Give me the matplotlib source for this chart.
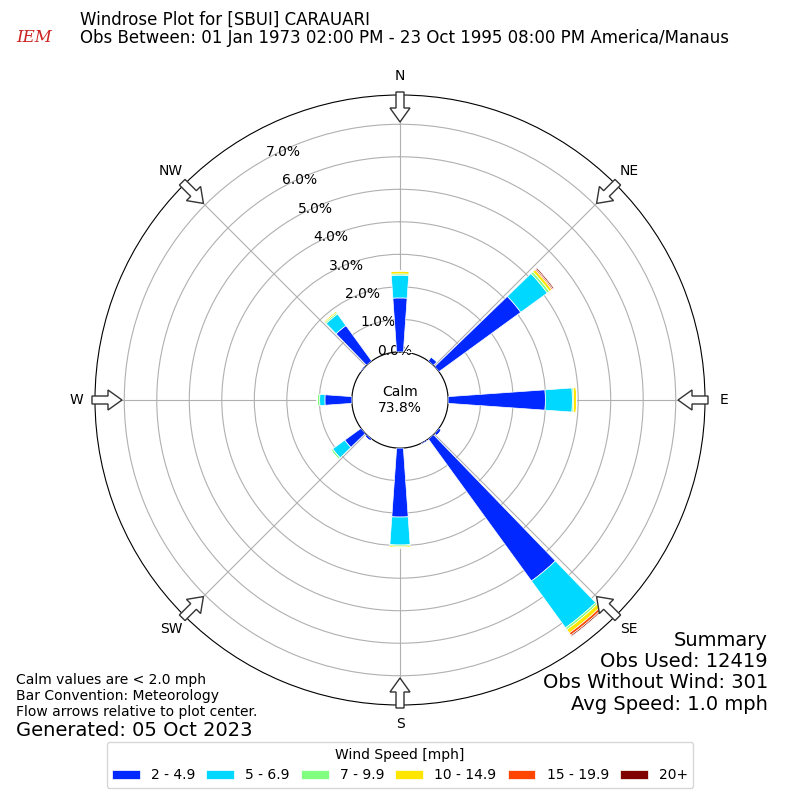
import numpy as np
import matplotlib
matplotlib.use("Agg")
import matplotlib.pyplot as plt
from matplotlib.patches import FancyArrow

directions = [0, 10, 40, 50, 90, 130, 140, 150, 180, 220, 230, 270, 310, 320]
bins_labels = ["2 - 4.9", "5 - 6.9", "7 - 9.9", "10 - 14.9", "15 - 19.9", "20+"]
colors = ["#0028ff", "#00d8ff", "#80ff80", "#ffe600", "#ff4500", "#800000"]
s1 = [1.66, 0.02, 0.15, 3.11, 2.99, 0.10, 5.40, 0.05, 2.12, 0.08, 0.62, 0.83, 0.05, 1.35]
s2 = [0.70, 0.00, 0.03, 1.01, 0.83, 0.00, 1.78, 0.00, 0.86, 0.00, 0.46, 0.16, 0.00, 0.44]
s3 = [0.04, 0.00, 0.00, 0.08, 0.04, 0.00, 0.07, 0.00, 0.04, 0.00, 0.07, 0.08, 0.00, 0.05]
s4 = [0.09, 0.00, 0.00, 0.09, 0.09, 0.00, 0.13, 0.00, 0.05, 0.00, 0.00, 0.00, 0.00, 0.05]
s5 = [0.00, 0.00, 0.00, 0.04, 0.00, 0.00, 0.08, 0.00, 0.00, 0.00, 0.00, 0.00, 0.00, 0.00]
s6 = [0.00, 0.00, 0.00, 0.04, 0.00, 0.00, 0.04, 0.00, 0.00, 0.00, 0.00, 0.00, 0.00, 0.00]
series = [s1, s2, s3, s4, s5, s6]
calm_pct = 73.8
rings = [0, 1, 2, 3, 4, 5, 6, 7]
compass = ["N", "NE", "E", "SE", "S", "SW", "W", "NW"]

fig = plt.figure(figsize=(8, 8), dpi=100)
ax = fig.add_axes([0.11875, 0.11875, 0.7625, 0.7625], projection="polar")
ax.set_theta_zero_location("N")
ax.set_theta_direction(-1)
ax.set_ylim(0, 7.9)
ax.set_rorigin(-1.48)

theta = np.deg2rad(directions)
width = np.deg2rad(8)
bottom = np.zeros(len(directions))
for vals, c, lab in zip(series, colors, bins_labels):
    v = np.array(vals)
    ax.bar(theta, v, width=width, bottom=bottom, color=c, edgecolor="white", linewidth=0.5, label=lab, zorder=3)
    bottom += v

ax.set_yticks(rings)
ax.set_yticklabels([f"{r:.1f}%" for r in rings], fontsize=10)
ax.set_rlabel_position(331)
ax.set_xticks(np.deg2rad(np.arange(0, 360, 45)))
ax.set_xticklabels([])
ax.grid(True, color="#b0b0b0", linewidth=0.8)
ax.text(0.5, 0.5, f"Calm\n{calm_pct:.1f}%", transform=ax.transAxes, ha="center", va="center", fontsize=10, zorder=5)

for i, name in enumerate(compass):
    a = np.deg2rad(i * 45)
    lx = 400 + 324 * np.sin(a)
    ly = 400 + 324 * np.cos(a)
    fig.text(lx / 800, ly / 800, name, ha="center", va="center", fontsize=10)
    x0 = 400 + 308 * np.sin(a)
    y0 = 400 + 308 * np.cos(a)
    dx = -30 * np.sin(a)
    dy = -30 * np.cos(a)
    arr = FancyArrow(x0 / 800, y0 / 800, dx / 800, dy / 800, width=8 / 800,
                     head_width=20 / 800, head_length=14 / 800, length_includes_head=True,
                     transform=fig.transFigure, facecolor="white", edgecolor="#333333", linewidth=1, zorder=10)
    fig.patches.append(arr)

fig.text(80 / 800, 1 - 20 / 800, "Windrose Plot for [SBUI] CARAUARI", fontsize=12, va="center")
fig.text(80 / 800, 1 - 38 / 800, "Obs Between: 01 Jan 1973 02:00 PM - 23 Oct 1995 08:00 PM America/Manaus", fontsize=12, va="center")
fig.text(16 / 800, 1 - 38 / 800, "IEM", fontsize=12, color="#cc2222", family="serif", style="italic", va="center")

fig.text(768 / 800, 1 - 631 / 800, "Summary\nObs Used: 12419\nObs Without Wind: 301\nAvg Speed: 1.0 mph",
         ha="right", va="top", fontsize=14, linespacing=1.15)
fig.text(16 / 800, 1 - 696 / 800, "Calm values are < 2.0 mph\nBar Convention: Meteorology\nFlow arrows relative to plot center.",
         ha="left", va="center", fontsize=10)
fig.text(16 / 800, 1 - 730 / 800, "Generated: 05 Oct 2023", ha="left", va="center", fontsize=14)

handles, labels = ax.get_legend_handles_labels()
fig.legend(handles, labels, loc="center", bbox_to_anchor=(0.5, 1 - 765 / 800), ncol=6,
           title="Wind Speed [mph]", fontsize=10, title_fontsize=10, handlelength=2.0, columnspacing=0.8)

fig.savefig("out.png", dpi=100)
